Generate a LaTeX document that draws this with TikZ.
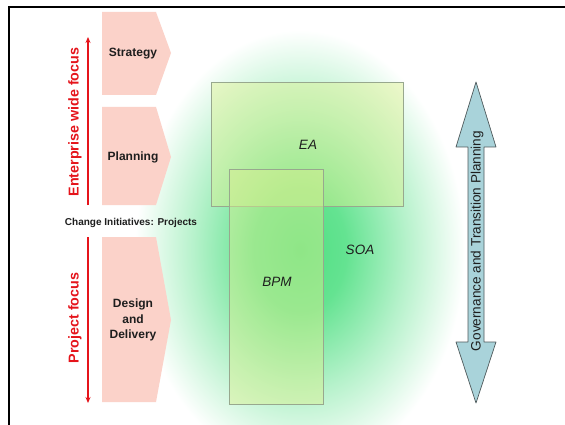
\documentclass[tikz,border=0pt]{standalone}
\usepackage{fontspec}
\setmainfont{Liberation Sans}
\usetikzlibrary{arrows.meta}
\definecolor{pent}{HTML}{FBD2C9}
\definecolor{redarr}{HTML}{E5141B}
\definecolor{glowc}{HTML}{4FDF82}
\definecolor{rectf}{HTML}{DDF08E}
\definecolor{rectd}{HTML}{98A88E}
\definecolor{govf}{HTML}{A9D3DA}
\definecolor{govd}{HTML}{4F5A5C}
\definecolor{txt}{HTML}{1E1E1E}
\pgfdeclareradialshading{glow}{\pgfpoint{0bp}{0bp}}{color(0bp)=(glowc); color(7bp)=(glowc!88!white); color(16bp)=(glowc!42!white); color(25bp)=(white); color(50bp)=(white)}
\tikzset{
  pentbox/.style={fill=pent, draw=none},
  steplabel/.style={font=\bfseries\fontsize{12}{15.5}\selectfont, text=txt, align=center},
  focuslabel/.style={font=\bfseries\fontsize{14.3}{16}\selectfont, text=redarr, rotate=90},
  focusarrow/.style={draw=redarr, line width=1.4pt, -{Stealth[length=6pt,width=5pt]}},
  arearect/.style={fill=rectf, fill opacity=0.45, draw=rectd, line width=0.8pt},
  arealabel/.style={font=\itshape\fontsize{13.5}{16}\selectfont, text=txt},
}
\begin{document}
\begin{tikzpicture}[x=1pt,y=-1pt]
\useasboundingbox (0,0) rectangle (565,425);
\fill[white] (0,0) rectangle (565,425);
% glow
\shade[shading=glow] (300,250) ellipse (165 and 220);
% frame
\draw[line width=2pt] (9,426) -- (9,7) -- (566,7);
% pentagons
\path[pentbox] (102,12) -- (156,12) -- (171,53) -- (156,95) -- (102,95) -- cycle;
\path[pentbox] (102,107) -- (156,107) -- (171,157) -- (156,205) -- (102,205) -- cycle;
\path[pentbox] (102,237) -- (156,237) -- (171,320) -- (156,402) -- (102,402) -- cycle;
\node[steplabel] (strategy) at (133,54) {Strategy};
\node[steplabel] (planning) at (133,157) {Planning};
\node[steplabel] (design) at (133,320) {Design\\and\\Delivery};
\node[font=\bfseries\fontsize{10}{11}\selectfont, text=txt] (change) at (131,223) {Change Initiatives: Projects};
% focus arrows
\coordinate (ewbot) at (88,205);
\coordinate (ewtop) at (88,37);
\coordinate (pftop) at (88,237);
\coordinate (pfbot) at (88,403);
\draw[focusarrow] (ewbot) -- (ewtop);
\draw[focusarrow] (pftop) -- (pfbot);
\node[focuslabel] (ewf) at (75,122) {Enterprise wide focus};
\node[focuslabel] (pf) at (75,318) {Project focus};
% areas
\draw[arearect] (211,82) rectangle (403,206);
\draw[arearect] (229,169) rectangle (323,404);
\node[arealabel] (ea) at (308,145) {EA};
\node[arealabel] (bpm) at (277,282) {BPM};
\node[arealabel] (soa) at (360,250) {SOA};
% governance double arrow
\path[fill=govf, draw=govd, line width=0.7pt, line join=round]
  (476,82) -- (496,147) -- (484,147) -- (484,342) -- (496,342) -- (476,403)
  -- (456,342) -- (468,342) -- (468,147) -- (456,147) -- cycle;
\node[font=\fontsize{13.6}{16}\selectfont, text=txt, rotate=90] (gov) at (477,241) {Governance and Transition Planning};
\end{tikzpicture}
\end{document}
